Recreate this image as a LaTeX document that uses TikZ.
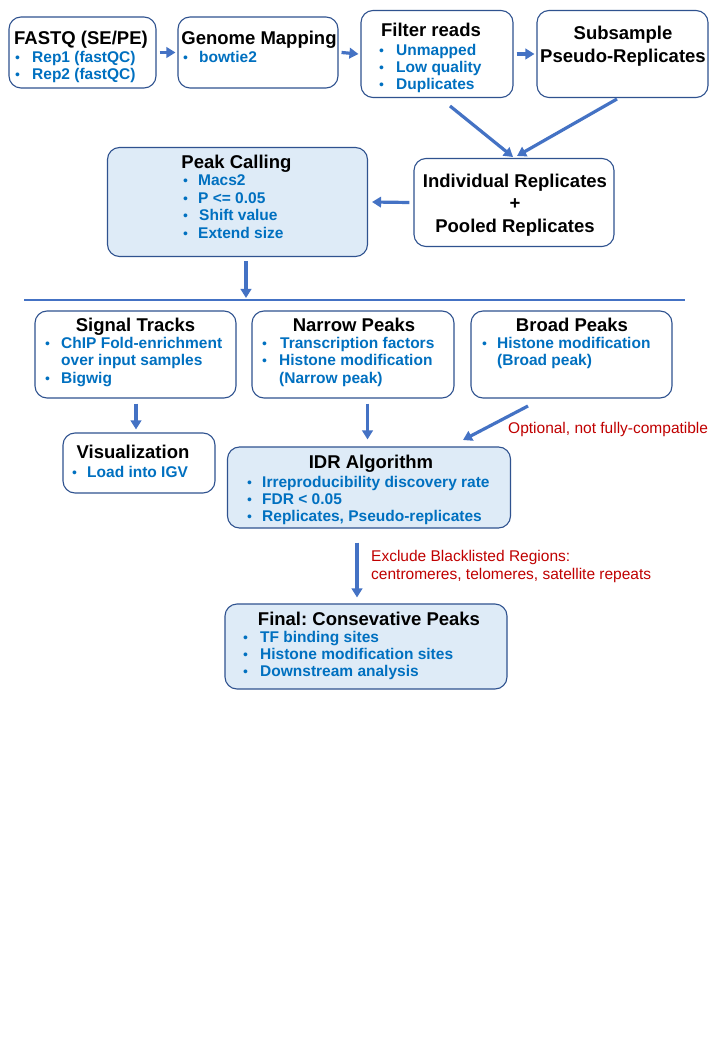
\documentclass[tikz,border=0pt]{standalone}
\usepackage{fontspec}
\setmainfont{Liberation Sans}
\usetikzlibrary{arrows.meta}
\definecolor{bdr}{HTML}{2F528F}
\definecolor{lblue}{HTML}{DEEBF7}
\definecolor{tblue}{HTML}{0070C0}
\definecolor{ablue}{HTML}{4472C4}
\definecolor{nred}{HTML}{C00000}
\frenchspacing
\newcommand\bul[5]{%
  \node[dotst] (#1d) at (#2,#4) {•};
  \node[itemst] (#1) at (#3,#4) {#5};}
\begin{document}
\begin{tikzpicture}[x=1pt,y=-1pt,
  box/.style={draw=bdr, line width=1.1pt, rounded corners=12pt, fill=white, inner sep=0},
  fbox/.style={box, fill=lblue},
  ttl/.style={font=\fontsize{18.5}{22}\selectfont\bfseries, inner sep=0, anchor=base},
  itemst/.style={font=\fontsize{15.5}{18}\selectfont\bfseries, text=tblue, inner sep=0, anchor=base west},
  dotst/.style={font=\fontsize{14}{14}\selectfont, text=tblue, inner sep=0, anchor=base west},
  arr/.style={draw=ablue, line width=3.2pt, -{Triangle[length=9pt,width=10.5pt]}},
  note/.style={font=\fontsize{15.5}{18}\selectfont, text=nred, inner sep=0, anchor=base west}]
\useasboundingbox (0,0) rectangle (720,1040);
\fill[white] (0,0) rectangle (720,1040);
% boxes
\node[box, minimum width=147pt, minimum height=71pt] (fastq) at (82.5,52.5) {};
\node[box, minimum width=160pt, minimum height=71pt] (gmap) at (258,52.5) {};
\node[box, minimum width=152pt, minimum height=87pt] (filt) at (437,54) {};
\node[box, minimum width=171pt, minimum height=87pt] (subs) at (622.5,54) {};
\node[box, minimum width=200pt, minimum height=88pt] (indiv) at (514,202.5) {};
\node[fbox, minimum width=260pt, minimum height=109pt] (peak) at (237.5,202) {};
\node[box, minimum width=201pt, minimum height=87pt] (sig) at (135.5,354.5) {};
\node[box, minimum width=202pt, minimum height=87pt] (nar) at (353,354.5) {};
\node[box, minimum width=201pt, minimum height=87pt] (brd) at (571.5,354.5) {};
\node[box, minimum width=152pt, minimum height=60pt] (vis) at (139,463) {};
\node[fbox, minimum width=283pt, minimum height=81pt] (idr) at (369,487.5) {};
\node[fbox, minimum width=282pt, minimum height=85pt] (fin) at (366,646.5) {};
% titles
\node[ttl] (t1) at (81,45) {FASTQ (SE/PE)};
\node[ttl] (t2) at (259,45) {Genome Mapping};
\node[ttl] (t3) at (431,37) {Filter reads};
\node[ttl] (t4) at (623,40) {Subsample};
\node[ttl] (t4b) at (623,63) {Pseudo-Replicates};
\node[ttl] (t5) at (515,188) {Individual Replicates};
\node[ttl] (t5b) at (515,210) {+};
\node[ttl] (t5c) at (515,233) {Pooled Replicates};
\node[ttl] (t6) at (236.5,169) {Peak Calling};
\node[ttl] (t7) at (135.5,331) {Signal Tracks};
\node[ttl] (t8) at (354,331) {Narrow Peaks};
\node[ttl] (t9) at (572,331) {Broad Peaks};
\node[ttl] (t10) at (133,458) {Visualization};
\node[ttl] (t11) at (371,468) {IDR Algorithm};
\node[ttl] (t12) at (369,625) {Final: Consevative Peaks};
% bullets
\bul{a1}{15}{32}{63}{Rep1 (fastQC)}
\bul{a2}{15}{32}{80}{Rep2 (fastQC)}
\bul{b1}{183}{199}{63}{bowtie2}
\bul{c1}{379}{396}{56}{Unmapped}
\bul{c2}{379}{396}{73}{Low quality}
\bul{c3}{379}{396}{90}{Duplicates}
\bul{d1}{183}{198}{186}{Macs2}
\bul{d2}{183}{198}{203.5}{P <= 0.05}
\bul{d3}{183}{199}{221}{Shift value}
\bul{d4}{183}{198}{238.5}{Extend size}
\bul{e1}{45}{61}{348}{ChIP Fold-enrichment}
\node[itemst] (e1b) at (61,365.5) {over input samples};
\bul{e2}{45}{61}{383}{Bigwig}
\bul{f1}{262}{280}{348}{Transcription factors}
\bul{f2}{262}{279}{365.5}{Histone modification}
\node[itemst] (f2b) at (279,383) {(Narrow peak)};
\bul{g1}{482}{497}{348}{Histone modification}
\node[itemst] (g1b) at (497,365.5) {(Broad peak)};
\bul{h1}{72}{87}{477}{Load into IGV}
\bul{i1}{247}{262}{487}{Irreproducibility discovery rate}
\bul{i2}{247}{262}{504}{FDR < 0.05}
\bul{i3}{247}{262}{521}{Replicates, Pseudo-replicates}
\bul{j1}{243}{260}{642}{TF binding sites}
\bul{j2}{243}{260}{659}{Histone modification sites}
\bul{j3}{243}{260}{676.5}{Downstream analysis}
% notes
\node[note] (n1) at (508,433) {Optional, not fully-compatible};
\node[note] (n2) at (371,561) {Exclude Blacklisted Regions:};
\node[note] (n3) at (371,579) {centromeres, telomeres, satellite repeats};
% connectors
\coordinate (s1) at (24,300);
\coordinate (s2) at (685,300);
\draw[draw=ablue, line width=1.5pt] (s1) -- (s2);
\draw[arr] ([xshift=3pt]fastq.east) -- ([xshift=-2pt]gmap.west);
\draw[arr] ([xshift=3pt]gmap.east) -- ([xshift=-2pt]filt.west);
\draw[arr] ([xshift=3pt]filt.east) -- ([xshift=-2pt]subs.west);
\coordinate (fd) at (450,106);
\coordinate (sd) at (617,99);
\coordinate (ih) at (513,157);
\coordinate (ih1) at (517,156);
\draw[arr] (fd) -- (ih);
\draw[arr] (sd) -- (ih1);
\draw[arr] ([xshift=-4pt]indiv.west) -- ([xshift=4pt]peak.east);
\coordinate (ps) at (246,298);
\draw[arr] ([yshift=-4pt]peak.south -| ps) -- (ps);
\draw[arr] ([yshift=-5pt]sig.south -| 136,0) -- ([yshift=3pt]vis.north -| 136,0);
\draw[arr] ([yshift=-5pt]nar.south -| 367.5,0) -- ([yshift=7pt]idr.north -| 367.5,0);
\coordinate (bd) at (528,406);
\coordinate (ih2) at (463,440);
\draw[arr] (bd) -- (ih2);
\draw[arr] ([yshift=-14pt]idr.south -| 357,0) -- ([yshift=6pt]fin.north -| 357,0);
\end{tikzpicture}
\end{document}
